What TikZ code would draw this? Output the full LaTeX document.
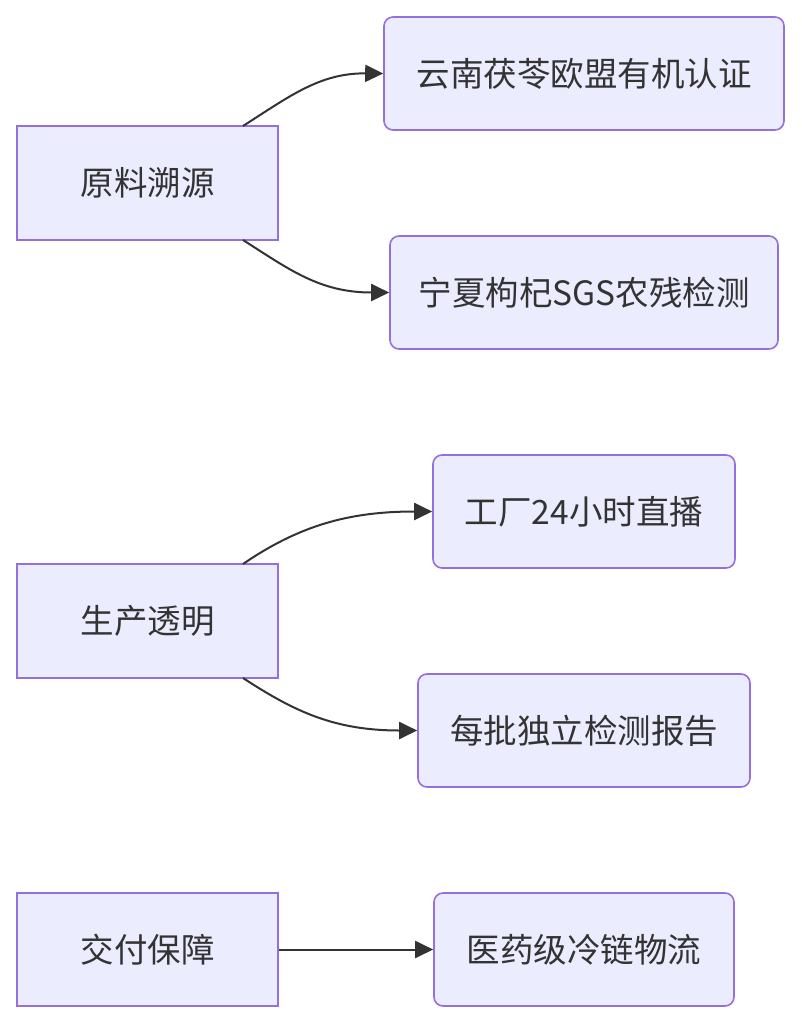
\documentclass[tikz,border=0pt]{standalone}
\usepackage{fontspec}
\setmainfont{Noto Sans CJK SC}
\usetikzlibrary{arrows.meta}
\definecolor{boxfill}{HTML}{ECECFF}
\definecolor{boxline}{HTML}{9370DB}
\definecolor{txt}{HTML}{333333}
\tikzset{
  base/.style={draw=boxline, fill=boxfill, line width=1.6pt, text=txt, font=\fontsize{33.5}{40}\selectfont, inner sep=0pt, anchor=center},
  sq/.style={base, rounded corners=0pt},
  rnd/.style={base, rounded corners=9pt},
  conn/.style={draw=txt, line width=2pt, -{Triangle[length=18pt,width=17pt]}},
}
\begin{document}
\begin{tikzpicture}[x=1pt,y=-1pt]
\useasboundingbox (0,0) rectangle (801,1024);
% left boxes
\node[sq, minimum width=261pt, minimum height=114pt] (a) at (147.5,183) {原料溯源};
\node[sq, minimum width=261pt, minimum height=114pt] (b) at (147.5,621) {生产透明};
\node[sq, minimum width=261pt, minimum height=113pt] (c) at (147.5,949.5) {交付保障};
% right boxes
\node[rnd, minimum width=400pt, minimum height=113pt] (a1) at (584,73.5) {云南茯苓欧盟有机认证};
\node[rnd, minimum width=388pt, minimum height=113pt] (a2) at (584,292.5) {宁夏枸杞SGS农残检测};
\node[rnd, minimum width=302pt, minimum height=113pt] (b1) at (584,511.5) {工厂24小时直播};
\node[rnd, minimum width=332pt, minimum height=113pt] (b2) at (584,730.5) {每批独立检测报告};
\node[rnd, minimum width=300pt, minimum height=113pt] (c1) at (584,949.5) {医药级冷链物流};
% connectors
\coordinate (as) at (243,126);
\coordinate (ae) at (243,240);
\coordinate (bs) at (243,564);
\coordinate (be) at (243,678);
\draw[conn] (as) .. controls (290,96) and (320,73) .. (a1.west);
\draw[conn] (ae) .. controls (290,270) and (320,292.5) .. (a2.west);
\draw[conn] (bs) .. controls (300,525) and (350,511.5) .. (b1.west);
\draw[conn] (be) .. controls (295,712) and (335,730.5) .. (b2.west);
\draw[conn] (c.east) -- (c1.west);
\end{tikzpicture}
\end{document}
